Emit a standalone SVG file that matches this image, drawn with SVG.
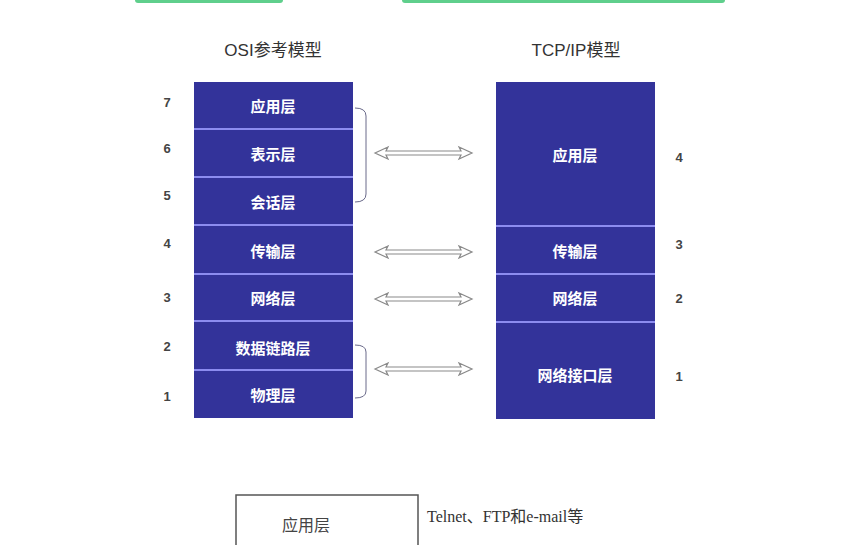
<svg xmlns="http://www.w3.org/2000/svg" width="841" height="545" viewBox="0 0 841 545">
<style>
.box{fill:#33339a;}
.div{stroke:#8c8cf0;stroke-width:2;}
.lbl{font-family:"Noto Sans CJK SC","Noto Sans",sans-serif;font-size:15px;font-weight:bold;fill:#ffffff;text-anchor:middle;}
.ttl{font-family:"Liberation Sans","Noto Sans CJK SC",sans-serif;font-size:17px;fill:#333333;text-anchor:middle;}
.num{font-family:"Liberation Sans",sans-serif;font-size:13px;font-weight:bold;fill:#444444;text-anchor:middle;}
.arr{fill:#ffffff;stroke:#8a8a8a;stroke-width:1.2;}
.brace{fill:none;stroke:#6a6a8a;stroke-width:1;}
.green{fill:#5fcf8c;}
</style>
<rect width="841" height="545" fill="#ffffff"/>
<rect class="green" x="135" y="-4" width="148" height="7" rx="3"/>
<rect class="green" x="402" y="-4" width="323" height="7" rx="3"/>

<text class="ttl" x="273" y="56">OSI参考模型</text>
<text class="ttl" x="576" y="56">TCP/IP模型</text>

<g id="osi">
<rect class="box" x="194" y="82" width="159" height="336"/>
<line class="div" x1="194" y1="129" x2="353" y2="129"/>
<line class="div" x1="194" y1="177" x2="353" y2="177"/>
<line class="div" x1="194" y1="225" x2="353" y2="225"/>
<line class="div" x1="194" y1="274" x2="353" y2="274"/>
<line class="div" x1="194" y1="321" x2="353" y2="321"/>
<line class="div" x1="194" y1="370" x2="353" y2="370"/>
<text class="lbl" x="273" y="112">应用层</text>
<text class="lbl" x="273" y="160">表示层</text>
<text class="lbl" x="273" y="208">会话层</text>
<text class="lbl" x="273" y="257">传输层</text>
<text class="lbl" x="273" y="304">网络层</text>
<text class="lbl" x="273" y="354">数据链路层</text>
<text class="lbl" x="273" y="401">物理层</text>
</g>

<g id="osi-nums">
<text class="num" x="167" y="107">7</text>
<text class="num" x="167" y="153">6</text>
<text class="num" x="167" y="200">5</text>
<text class="num" x="167" y="248">4</text>
<text class="num" x="167" y="302">3</text>
<text class="num" x="167" y="351">2</text>
<text class="num" x="167" y="401">1</text>
</g>

<g id="tcpip">
<rect class="box" x="496" y="82" width="159" height="337"/>
<line class="div" x1="496" y1="226" x2="655" y2="226"/>
<line class="div" x1="496" y1="274" x2="655" y2="274"/>
<line class="div" x1="496" y1="322" x2="655" y2="322"/>
<text class="lbl" x="575" y="161">应用层</text>
<text class="lbl" x="575" y="257">传输层</text>
<text class="lbl" x="575" y="304">网络层</text>
<text class="lbl" x="575" y="381">网络接口层</text>
</g>

<g id="tcp-nums">
<text class="num" x="679" y="162">4</text>
<text class="num" x="679" y="249">3</text>
<text class="num" x="679" y="303">2</text>
<text class="num" x="679" y="381">1</text>
</g>

<g id="connectors">
<path class="brace" d="M355,108 Q366,108 366,116 L366,194 Q366,202 355,202"/>
<path class="brace" d="M355,345 Q366,345 366,352 L366,391 Q366,398 355,398"/>
<polygon class="arr" points="375,153 388,147 386,151 461,151 459,147 472,153 459,159 461,155 386,155 388,159"/>
<polygon class="arr" points="375,252 388,246 386,250 461,250 459,246 472,252 459,258 461,254 386,254 388,258"/>
<polygon class="arr" points="375,299 388,293 386,297 461,297 459,293 472,299 459,305 461,301 386,301 388,305"/>
<polygon class="arr" points="375,369 388,363 386,367 461,367 459,363 472,369 459,375 461,371 386,371 388,375"/>
</g>

<g id="legend">
<rect x="236" y="495" width="182" height="60" fill="#ffffff" stroke="#555555" stroke-width="1.5"/>
<text x="306" y="531" font-family="Noto Sans CJK SC,sans-serif" font-size="16" fill="#444444" text-anchor="middle">应用层</text>
<text x="427" y="522" font-family="Liberation Serif,Noto Sans CJK SC,serif" font-size="16" fill="#333333">Telnet、FTP和e-mail等</text>
</g>
</svg>
